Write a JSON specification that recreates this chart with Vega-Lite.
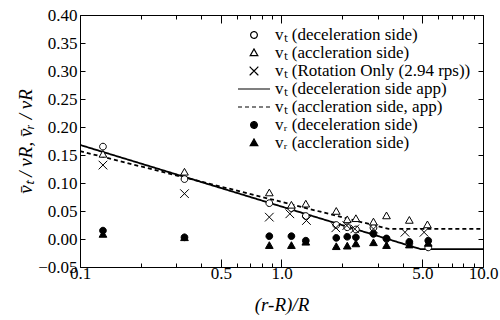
{
  "$schema": "https://vega.github.io/schema/vega-lite/v6.json",
  "width": 403,
  "height": 252,
  "autosize": {"type": "none"},
  "padding": {"left": 80, "top": 15, "right": 17, "bottom": 53},
  "config": {
    "font": "Liberation Serif",
    "view": {"stroke": "black", "strokeWidth": 1},
    "axis": {"grid": false, "domainColor": "black", "tickColor": "black", "labelColor": "black", "titleColor": "black", "labelFont": "Liberation Serif", "titleFont": "Liberation Serif", "labelFontSize": 17, "titleFontSize": 19, "titleFontWeight": "normal"},
    "legend": {"labelFont": "Liberation Serif", "labelFontSize": 17, "labelColor": "black", "labelLimit": 0, "symbolStrokeColor": "black", "symbolStrokeWidth": 1.2}
  },
  "datasets": {
    "pts": [
      {"series": "vₜ (deceleration side)", "x": 0.13, "y": 0.165},
      {"series": "vₜ (deceleration side)", "x": 0.33, "y": 0.107},
      {"series": "vₜ (deceleration side)", "x": 0.87, "y": 0.064},
      {"series": "vₜ (deceleration side)", "x": 1.12, "y": 0.055},
      {"series": "vₜ (deceleration side)", "x": 1.32, "y": 0.041},
      {"series": "vₜ (deceleration side)", "x": 1.87, "y": 0.025},
      {"series": "vₜ (deceleration side)", "x": 2.12, "y": 0.021},
      {"series": "vₜ (deceleration side)", "x": 2.34, "y": 0.017},
      {"series": "vₜ (deceleration side)", "x": 2.86, "y": 0.020},
      {"series": "vₜ (deceleration side)", "x": 3.32, "y": 0.000},
      {"series": "vₜ (deceleration side)", "x": 4.31, "y": -0.008},
      {"series": "vₜ (deceleration side)", "x": 5.35, "y": -0.015},
      {"series": "vₜ (accleration side)", "x": 0.13, "y": 0.151},
      {"series": "vₜ (accleration side)", "x": 0.33, "y": 0.119},
      {"series": "vₜ (accleration side)", "x": 0.87, "y": 0.082},
      {"series": "vₜ (accleration side)", "x": 1.12, "y": 0.060},
      {"series": "vₜ (accleration side)", "x": 1.32, "y": 0.062},
      {"series": "vₜ (accleration side)", "x": 1.87, "y": 0.049},
      {"series": "vₜ (accleration side)", "x": 2.12, "y": 0.034},
      {"series": "vₜ (accleration side)", "x": 2.34, "y": 0.036},
      {"series": "vₜ (accleration side)", "x": 2.86, "y": 0.030},
      {"series": "vₜ (accleration side)", "x": 3.32, "y": 0.041},
      {"series": "vₜ (accleration side)", "x": 4.31, "y": 0.033},
      {"series": "vₜ (accleration side)", "x": 5.3, "y": 0.025},
      {"series": "vₜ (Rotation Only (2.94 rps))", "x": 0.13, "y": 0.132},
      {"series": "vₜ (Rotation Only (2.94 rps))", "x": 0.33, "y": 0.081},
      {"series": "vₜ (Rotation Only (2.94 rps))", "x": 0.87, "y": 0.039},
      {"series": "vₜ (Rotation Only (2.94 rps))", "x": 1.1, "y": 0.045},
      {"series": "vₜ (Rotation Only (2.94 rps))", "x": 1.33, "y": 0.033},
      {"series": "vₜ (Rotation Only (2.94 rps))", "x": 1.86, "y": 0.020},
      {"series": "vₜ (Rotation Only (2.94 rps))", "x": 2.11, "y": 0.024},
      {"series": "vₜ (Rotation Only (2.94 rps))", "x": 2.31, "y": 0.018},
      {"series": "vₜ (Rotation Only (2.94 rps))", "x": 2.86, "y": 0.018},
      {"series": "vₜ (Rotation Only (2.94 rps))", "x": 4.1, "y": 0.012},
      {"series": "vₜ (Rotation Only (2.94 rps))", "x": 5.1, "y": 0.012},
      {"series": "vᵣ (deceleration side)", "x": 0.13, "y": 0.015},
      {"series": "vᵣ (deceleration side)", "x": 0.33, "y": 0.003},
      {"series": "vᵣ (deceleration side)", "x": 0.87, "y": 0.005},
      {"series": "vᵣ (deceleration side)", "x": 1.12, "y": 0.005},
      {"series": "vᵣ (deceleration side)", "x": 1.32, "y": -0.003},
      {"series": "vᵣ (deceleration side)", "x": 1.87, "y": 0.002},
      {"series": "vᵣ (deceleration side)", "x": 2.12, "y": 0.004},
      {"series": "vᵣ (deceleration side)", "x": 2.34, "y": 0.003},
      {"series": "vᵣ (deceleration side)", "x": 2.86, "y": 0.009},
      {"series": "vᵣ (deceleration side)", "x": 3.32, "y": 0.001},
      {"series": "vᵣ (deceleration side)", "x": 4.31, "y": -0.005},
      {"series": "vᵣ (deceleration side)", "x": 5.35, "y": -0.003},
      {"series": "vᵣ (accleration side)", "x": 0.13, "y": 0.008},
      {"series": "vᵣ (accleration side)", "x": 0.33, "y": 0.002},
      {"series": "vᵣ (accleration side)", "x": 0.87, "y": -0.012},
      {"series": "vᵣ (accleration side)", "x": 1.12, "y": -0.012},
      {"series": "vᵣ (accleration side)", "x": 1.32, "y": -0.006},
      {"series": "vᵣ (accleration side)", "x": 1.87, "y": -0.014},
      {"series": "vᵣ (accleration side)", "x": 2.12, "y": -0.013},
      {"series": "vᵣ (accleration side)", "x": 2.34, "y": -0.009},
      {"series": "vᵣ (accleration side)", "x": 2.86, "y": -0.007},
      {"series": "vᵣ (accleration side)", "x": 3.32, "y": -0.012},
      {"series": "vᵣ (accleration side)", "x": 4.31, "y": -0.011},
      {"series": "vᵣ (accleration side)", "x": 5.35, "y": -0.008}
    ],
    "lines": [
      {"series": "vₜ (deceleration side app)", "x": 0.1, "y": 0.168},
      {"series": "vₜ (deceleration side app)", "x": 4.9, "y": -0.018},
      {"series": "vₜ (deceleration side app)", "x": 10, "y": -0.018},
      {"series": "vₜ (accleration side, app)", "x": 0.1, "y": 0.157},
      {"series": "vₜ (accleration side, app)", "x": 3.4, "y": 0.018},
      {"series": "vₜ (accleration side, app)", "x": 10, "y": 0.018}
    ]
  },
  "layer": [
    {
      "data": {"name": "lines"},
      "mark": {"type": "line", "stroke": "black", "strokeWidth": 1.8, "clip": true},
      "encoding": {
        "x": {"field": "x", "type": "quantitative", "scale": {"type": "log", "domain": [0.1, 10], "nice": false},
          "axis": {"orient": "top", "title": null, "labels": false, "domain": false,
            "values": [0.1,0.2,0.3,0.4,0.5,0.6,0.7,0.8,0.9,1,2,3,4,5,6,7,8,9,10],
            "tickSize": {"condition": {"test": "indexof([0.1,0.5,1,5,10], datum.value) >= 0", "value": -8}, "value": -4}}},
        "y": {"field": "y", "type": "quantitative", "scale": {"domain": [-0.05, 0.4], "nice": false, "zero": false},
          "axis": {"orient": "right", "title": null, "labels": false, "domain": false, "tickSize": -5,
            "values": [-0.05,0,0.05,0.1,0.15,0.2,0.25,0.3,0.35,0.4]}},
        "detail": {"field": "series"},
        "strokeDash": {"field": "series", "type": "nominal",
          "scale": {"domain": ["vₜ (deceleration side)", "vₜ (accleration side)", "vₜ (Rotation Only (2.94 rps))", "vₜ (deceleration side app)", "vₜ (accleration side, app)", "vᵣ (deceleration side)", "vᵣ (accleration side)"],
            "range": [[1,0],[1,0],[1,0],[1,0],[4,3],[1,0],[1,0]]},
          "legend": {"title": null, "orient": "top-right", "offset": 12, "rowPadding": 1, "padding": 0, "symbolSize": 1024, "clipHeight": 16}}
      }
    },
    {
      "data": {"name": "pts"},
      "mark": {"type": "point", "strokeWidth": 1, "opacity": 1, "size": 1024},
      "encoding": {
        "x": {"field": "x", "type": "quantitative", "scale": {"type": "log", "domain": [0.1, 10], "nice": false},
          "axis": {"orient": "bottom", "title": "(r-R)/R", "titleFontStyle": "italic", "titlePadding": 14, "domain": false,
            "values": [0.1,0.2,0.3,0.4,0.5,0.6,0.7,0.8,0.9,1,2,3,4,5,6,7,8,9,10],
            "labelExpr": "indexof([0.1,0.5,1,5,10], datum.value) >= 0 ? format(datum.value, '.1f') : ''",
            "labelPadding": 6, "labelFlush": false,
            "tickSize": {"condition": {"test": "indexof([0.1,0.5,1,5,10], datum.value) >= 0", "value": -8}, "value": -4}}},
        "y": {"field": "y", "type": "quantitative", "scale": {"domain": [-0.05, 0.4], "nice": false, "zero": false},
          "axis": {"orient": "left", "title": "v̄ₜ / vR, v̄ᵣ / vR", "titleFontStyle": "italic", "format": ".2f", "domain": false, "tickSize": -5,
            "labelPadding": 8, "titlePadding": 2,
            "values": [-0.05,0,0.05,0.1,0.15,0.2,0.25,0.3,0.35,0.4]}},
        "shape": {"field": "series", "type": "nominal",
          "scale": {"domain": ["vₜ (deceleration side)", "vₜ (accleration side)", "vₜ (Rotation Only (2.94 rps))", "vₜ (deceleration side app)", "vₜ (accleration side, app)", "vᵣ (deceleration side)", "vᵣ (accleration side)"],
            "range": ["M0.21,0A0.21,0.21,0,1,1,-0.21,0A0.21,0.21,0,1,1,0.21,0Z", "M0,-0.25L0.24,0.17L-0.24,0.17Z", "M-0.27,-0.27L0.27,0.27M0.27,-0.27L-0.27,0.27", "stroke", "stroke", "M0.21,0A0.21,0.21,0,1,1,-0.21,0A0.21,0.21,0,1,1,0.21,0Z", "M0,-0.25L0.24,0.17L-0.24,0.17Z"]},
          "legend": {"title": null, "orient": "top-right", "offset": 12, "rowPadding": 1, "padding": 0, "symbolSize": 1024, "clipHeight": 16}},
        "fill": {"field": "series", "type": "nominal",
          "scale": {"domain": ["vₜ (deceleration side)", "vₜ (accleration side)", "vₜ (Rotation Only (2.94 rps))", "vₜ (deceleration side app)", "vₜ (accleration side, app)", "vᵣ (deceleration side)", "vᵣ (accleration side)"],
            "range": ["white", "white", "transparent", "transparent", "transparent", "black", "black"]},
          "legend": {"title": null, "orient": "top-right", "offset": 12, "rowPadding": 1, "padding": 0, "symbolSize": 1024, "clipHeight": 16}},
        "stroke": {"field": "series", "type": "nominal",
          "scale": {"domain": ["vₜ (deceleration side)", "vₜ (accleration side)", "vₜ (Rotation Only (2.94 rps))", "vₜ (deceleration side app)", "vₜ (accleration side, app)", "vᵣ (deceleration side)", "vᵣ (accleration side)"],
            "range": ["black", "black", "black", "black", "black", "black", "black"]},
          "legend": {"title": null, "orient": "top-right", "offset": 12, "rowPadding": 1, "padding": 0, "symbolSize": 1024, "clipHeight": 16}}
      }
    }
  ],
  "resolve": {"axis": {"x": "independent", "y": "independent"}}
}
